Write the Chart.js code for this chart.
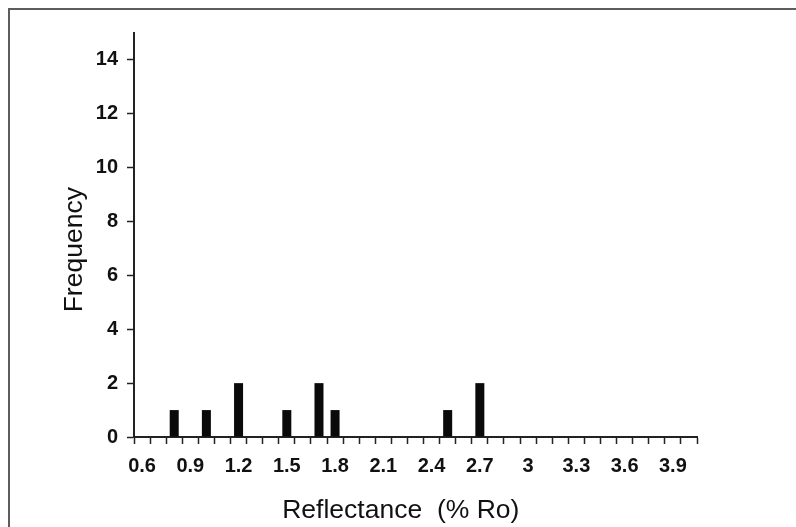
<!DOCTYPE html>
<html>
<head>
<meta charset="utf-8">
<title>Reflectance histogram</title>
<script src="https://cdn.jsdelivr.net/npm/chart.js@4/dist/chart.umd.min.js"></script>
<style>
  body { margin: 0; background: #fff; }
  #wrap { position: relative; width: 796px; height: 527px; overflow: hidden; }
  #frame {
    position: absolute; left: 8px; top: 8px; right: -4px; bottom: -4px;
    border-top: 2px solid #5c5c5c; border-left: 2px solid #5c5c5c;
  }
  #chart { position: absolute; left: 0; top: 0; }
</style>
</head>
<body>
<div id="wrap">
  <div id="frame"></div>
  <canvas id="chart" width="796" height="527"></canvas>
</div>
<script>
// reflectance bins, 0.1 wide
const bins = [
  "0.6", "0.7", "0.8", "0.9", "1", "1.1", "1.2", "1.3", "1.4", "1.5",
  "1.6", "1.7", "1.8", "1.9", "2", "2.1", "2.2", "2.3", "2.4", "2.5",
  "2.6", "2.7", "2.8", "2.9", "3", "3.1", "3.2", "3.3", "3.4", "3.5",
  "3.6", "3.7", "3.8", "3.9", "4"
];
const frequency = [
  0, 0, 1, 0, 1, 0, 2, 0, 0, 1,
  0, 2, 1, 0, 0, 0, 0, 0, 0, 1,
  0, 2, 0, 0, 0, 0, 0, 0, 0, 0,
  0, 0, 0, 0, 0
];
const tickLabels = ["0.6", "0.9", "1.2", "1.5", "1.8", "2.1", "2.4", "2.7", "3", "3.3", "3.6", "3.9"];
const yTicks = [0, 2, 4, 6, 8, 10, 12, 14];

const axisColor = "#222";
const tickFont = { family: "'Liberation Sans', Arial, sans-serif", size: 20, weight: "bold" };
const titleFont = { family: "'Liberation Sans', Arial, sans-serif", size: 26.5, weight: "normal" };

const ctx = document.getElementById("chart").getContext("2d");
const chart = new Chart(ctx, {
  type: "bar",
  data: {
    labels: bins,
    datasets: [
      {
        label: "Frequency",
        data: frequency,
        backgroundColor: "#0a0a0a",
        barPercentage: 0.56,
        categoryPercentage: 1,
      },
    ],
  },
  options: {
    responsive: false,
    animation: false,
    layout: { padding: { left: 0, top: 33, right: 99, bottom: 0 } },
    plugins: { legend: { display: false }, tooltip: { enabled: false } },
    scales: {
      x: {
        offset: true,
        afterFit: (scale) => { scale.height = 90; },
        border: { color: axisColor, width: 2 },
        grid: {
          offset: true,
          drawOnChartArea: false,
          drawTicks: true,
          tickLength: 7,
          tickColor: axisColor,
          tickWidth: 1.5,
        },
        ticks: {
          autoSkip: false,
          maxRotation: 0,
          padding: 10,
          color: "#111",
          font: tickFont,
          callback: (value, i) => (tickLabels.includes(bins[i]) ? bins[i] : ""),
        },
        title: {
          display: true,
          // trailing spaces nudge the centred title a little to the left
          text: "Reflectance  (% Ro)    ",
          color: "#111",
          font: titleFont,
          padding: { top: 18, bottom: 0 },
        },
      },
      y: {
        min: 0,
        max: 15,
        afterFit: (scale) => { scale.width = 134; },
        afterBuildTicks: (scale) => {
          scale.ticks = yTicks.map((v) => ({ value: v }));
        },
        border: { color: axisColor, width: 2 },
        grid: {
          drawOnChartArea: false,
          drawTicks: true,
          tickLength: 7,
          tickColor: axisColor,
          tickWidth: 1.5,
        },
        ticks: {
          padding: 9,
          color: "#111",
          font: tickFont,
        },
        title: {
          display: true,
          text: "Frequency    ",
          color: "#111",
          font: titleFont,
          padding: { top: 59, bottom: 0 },
        },
      },
    },
  },
});
</script>
</body>
</html>
